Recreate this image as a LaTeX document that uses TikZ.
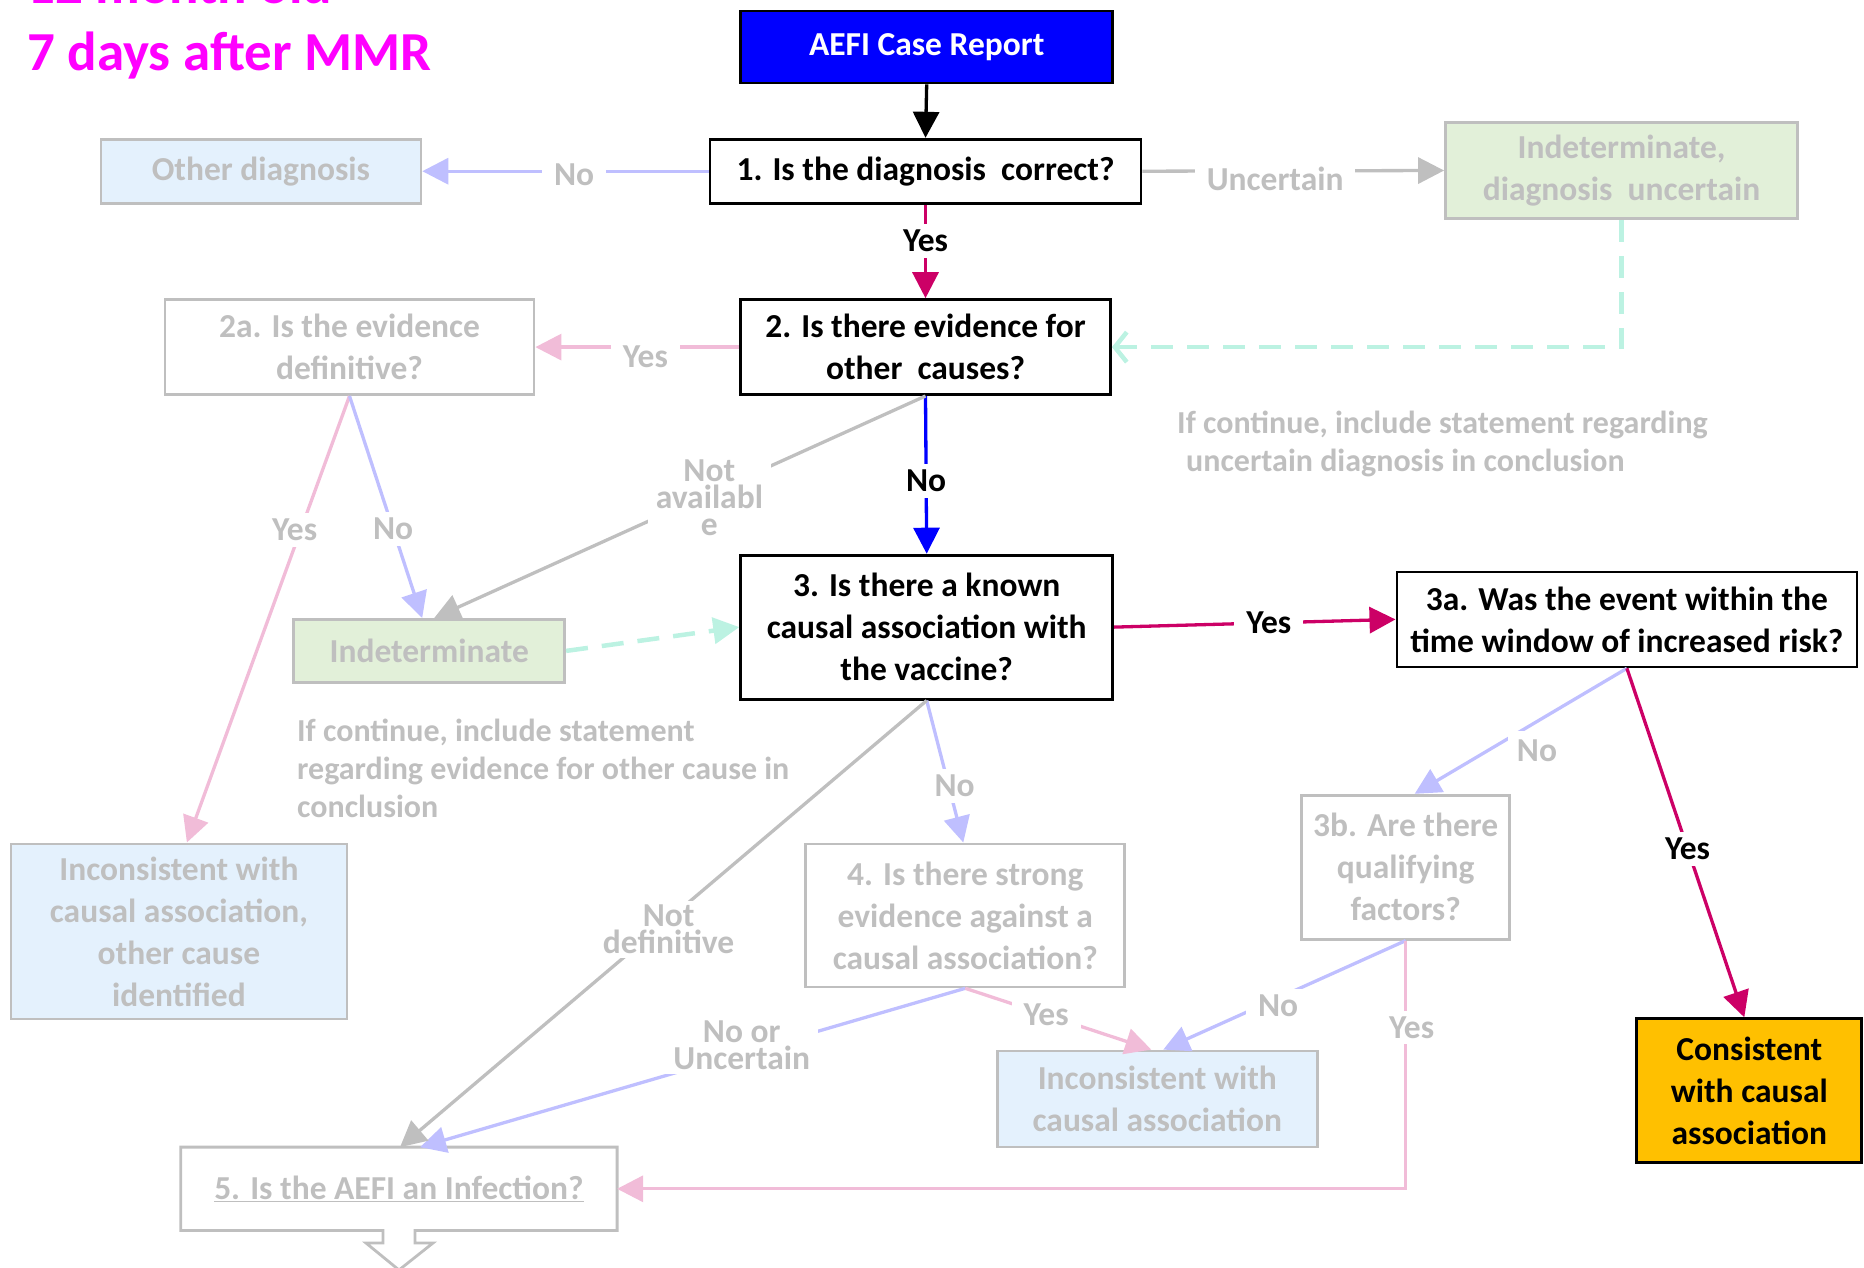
\documentclass[tikz,border=0pt]{standalone}
\usepackage{fontspec}
\setmainfont{Carlito}
\usetikzlibrary{arrows.meta,calc}
\definecolor{gtx}{RGB}{191,191,191}
\definecolor{lav}{RGB}{191,191,255}
\definecolor{pnk}{RGB}{241,188,216}
\definecolor{aqu}{RGB}{188,242,226}
\definecolor{crim}{RGB}{204,0,102}
\definecolor{pblue}{RGB}{0,0,255}
\definecolor{lblue}{RGB}{228,241,253}
\definecolor{lgreen}{RGB}{226,240,217}
\definecolor{orng}{RGB}{255,192,0}
\definecolor{mag}{RGB}{255,0,255}
\begin{document}
\begin{tikzpicture}[x=1pt,y=-1pt,
  every node/.style={font=\fontsize{33.5}{42}\selectfont\bfseries, inner sep=0pt, align=center},
  bbox/.style={draw=black, line width=2.8pt},
  gbox/.style={draw=gtx, line width=2.8pt, text=gtx},
  con/.style={line width=3.3pt, -{Triangle[length=26pt,width=26pt]}},
  dcon/.style={line width=4.5pt, dash pattern=on 22pt off 14pt},
  lbl/.style={fill=white, inner xsep=12pt, inner ysep=6pt, text=black},
  glbl/.style={lbl, text=gtx},
  tightlbl/.style={font=\fontsize{33.5}{27}\selectfont\bfseries, inner xsep=8pt, inner ysep=4pt},
  note/.style={anchor=west, align=left, text=gtx, font=\fontsize{32}{38}\selectfont\bfseries},
]
\useasboundingbox (0,0) rectangle (1864,1267);

% title
\node[anchor=base west, text=mag, font=\fontsize{55}{66}\selectfont\bfseries] (t1) at (27,3) {12 month old};
\node[anchor=base west, text=mag, font=\fontsize{55}{66}\selectfont\bfseries] (t2) at (27,70) {7 days after MMR};

% boxes
\node[bbox, fill=pblue, text=white, minimum width=372pt, minimum height=72pt] (case) at (926.7,47) {AEFI Case Report};
\node[bbox, minimum width=431pt, minimum height=64pt] (q1) at (925.5,171.2) {1. Is the diagnosis\ \ correct?};
\node[gbox, fill=lblue, minimum width=320pt, minimum height=64pt] (other) at (260.9,171.2) {Other diagnosis};
\node[gbox, fill=lgreen, minimum width=352pt, minimum height=96pt] (indu) at (1621.5,170.5) {Indeterminate,\\diagnosis\ \ uncertain};
\node[bbox, minimum width=370pt, minimum height=95pt] (q2) at (925.5,347.1) {2. Is there evidence for\\other\ \ causes?};
\node[gbox, minimum width=369pt, minimum height=95pt] (q2a) at (349.5,347.1) {2a. Is the evidence\\definitive?};
\node[bbox, minimum width=372pt, minimum height=144pt] (q3) at (926.7,627.1) {3. Is there a known\\causal association with\\the vaccine?};
\node[bbox, minimum width=460pt, minimum height=95pt] (q3a) at (1626.9,619.4) {3a. Was the event within the\\time window of increased risk?};
\node[gbox, fill=lgreen, minimum width=271pt, minimum height=63pt] (ind) at (429.2,650.9) {Indeterminate};
\node[gbox, fill=lblue, minimum width=336pt, minimum height=175pt] (incoth) at (178.9,931.4) {Inconsistent with\\causal association,\\other cause\\identified};
\node[gbox, minimum width=319pt, minimum height=143pt] (q4) at (965.3,915.4) {4. Is there strong\\evidence against a\\causal association?};
\node[gbox, minimum width=208pt, minimum height=144pt] (q3b) at (1405.7,867.2) {3b. Are there\\qualifying\\factors?};
\node[bbox, fill=orng, minimum width=225pt, minimum height=144pt] (cons) at (1749.3,1090.7) {Consistent\\with causal\\association};
\node[gbox, fill=lblue, minimum width=320pt, minimum height=96pt] (incons) at (1157.3,1099) {Inconsistent with\\causal association};
\node[text=gtx, minimum width=436pt, minimum height=83pt] (q5) at (398.9,1188.8) {\underline{5. Is the AEFI an Infection?}};
\draw[gtx, line width=2.8pt] (q5.north west) -- (q5.north east) -- (q5.south east)
  -- (415,1230.4) -- (415,1243) -- (433,1243) -- (399,1270) -- (366,1243) -- (383,1243)
  -- (383,1230.4) -- (q5.south west) -- cycle;

% notes
\node[note] (note1) at (1177,444) {If continue, include statement regarding\\\hspace*{9pt}uncertain diagnosis in conclusion};
\node[note] (note2) at (297,768) {If continue, include statement\\regarding evidence for other cause in\\conclusion};

% connectors
\draw[con, black] (case.south) -- (q1.north);
\draw[con, lav] (q1.west) -- node[glbl, pos=0.47, yshift=-4pt] (l2) {No} (other.east);
\draw[con, gtx] (q1.east) -- node[glbl, pos=0.44, yshift=-8pt] (l3) {Uncertain} (indu.west);
\draw[con, crim] (q1.south) -- node[lbl, pos=0.39] (l4) {Yes} (q2.north);
\draw[dcon, aqu, -{Straight Barb[length=12pt,width=30pt]}] (indu.south) |- (q2.east);
\draw[con, pnk] (q2.west) -- node[glbl, pos=0.46, yshift=-10pt] (l6) {Yes} (q2a.east);
\draw[con, pblue] (q2.south) -- node[lbl, pos=0.54] (l7) {No} (q3.north);
\draw[con, gtx] (q2.south) -- node[glbl, tightlbl, pos=0.44, yshift=-4pt] (l8) {Not\\availabl\\e} ($(ind.north)+(5,0)$);
\draw[con, pnk] (q2a.south) -- node[glbl, pos=0.30, xshift=-6pt] (l9) {Yes} ($(incoth.north)+(8,0)$);
\draw[con, lav] (q2a.south) -- node[glbl, pos=0.6] (l10) {No} ($(ind.north)+(-7,0)$);
\draw[dcon, aqu, -{Triangle[length=26pt,width=26pt]}] (ind.east) -- (q3.west);
\draw[con, crim] (q3.east) -- node[lbl, pos=0.55] (l12) {Yes} (q3a.west);
\draw[con, lav] (q3a.south) -- ($(q3b.north)+(9,0)$);
\node[glbl, inner sep=9pt] (l13) at (1537,751) {No};
\draw[con, crim] (q3a.south) -- node[lbl, pos=0.517] (l14) {Yes} ($(cons.north)+(-5,0)$);
\draw[con, lav] (q3.south) -- node[glbl, pos=0.6, xshift=6pt] (l15) {No} ($(q4.north)+(-2,0)$);
\draw[con, lav] (q4.south) -- node[glbl, tightlbl, pos=0.41, yshift=8pt] (l17) {No or\\Uncertain} (420,1147.2);
\draw[con, gtx] (q3.south) -- node[glbl, tightlbl, pos=0.49, yshift=-10pt] (l16) {Not\\definitive} (400,1147.2);
\draw[con, pnk] (q4.south) -- node[glbl, pos=0.435] (l18) {Yes} ($(incons.north)+(-6,0)$);
\draw[con, lav] (q3b.south) -- node[glbl, pos=0.526, yshift=-8pt] (l19) {No} ($(incons.north)+(6,0)$);
\draw[con, pnk] (q3b.south) -- node[glbl, pos=0.35, xshift=6pt] (l20) {Yes} (q3b.south |- q5.east) -- (q5.east);
\end{tikzpicture}
\end{document}
